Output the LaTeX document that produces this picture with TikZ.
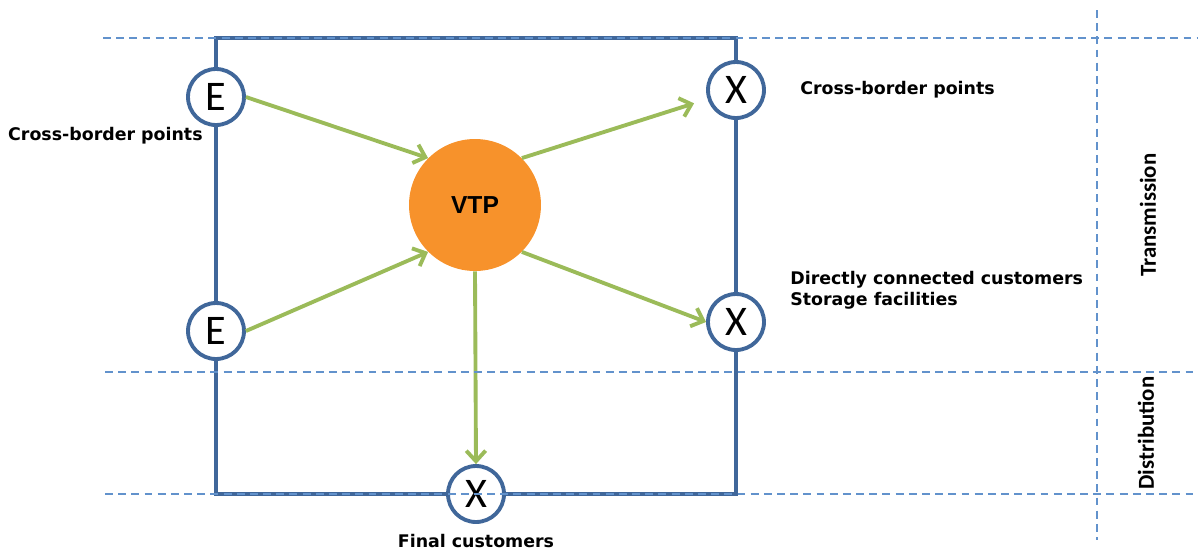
\documentclass[tikz,border=0pt]{standalone}
\usepackage{fontspec}
\usetikzlibrary{positioning, arrows.meta}
\newfontfamily\labelfont{DejaVu Sans}
\newfontfamily\letterfont{Carlito}
\newfontfamily\vtpfont{Liberation Sans}
\definecolor{boxblue}{RGB}{64,103,154}
\definecolor{lineblue}{RGB}{98,146,204}
\definecolor{flowgreen}{RGB}{155,187,89}
\definecolor{vtporange}{RGB}{247,146,43}

\begin{document}
\begin{tikzpicture}[x=0.02cm, y=-0.02cm,
    point/.style={circle, draw=boxblue, line width=2.2pt, fill=white,
        minimum size=1.12cm, inner sep=0pt, font=\letterfont\fontsize{24}{24}\selectfont},
    hub/.style={circle, fill=vtporange, minimum size=2.64cm, inner sep=0pt,
        font=\vtpfont\bfseries\fontsize{14}{14}\selectfont},
    lbl/.style={font=\labelfont\bfseries\fontsize{9.9}{12}\selectfont, inner sep=0pt, align=left},
    zone/.style={font=\letterfont\bfseries\fontsize{13}{13}\selectfont, rotate=90, inner sep=0pt},
    flow/.style={draw=flowgreen, line width=2.2pt, -{Straight Barb[length=6pt, width=11pt, line width=2.2pt]}},
    level/.style={draw=lineblue, line width=1.3pt, dash pattern=on 4.5pt off 3pt}]
    \useasboundingbox (0,0) rectangle (1198,549);

    % box
    \draw[boxblue, line width=2.2pt] (216,38) rectangle (736,494);

    % points
    \node[hub] (vtp) at (475,205) {VTP};
    \node[point] (e1) at (216,97) {E};
    \node[point] (e2) at (216,331) {E};
    \node[point] (x1) at (736,90) {X};
    \node[point] (x2) at (736,322) {X};
    \node[point] (x3) at (476,494) {X};

    % labels
    \node[lbl, anchor=north east] (cbin) at (203,127) {Cross-border points};
    \node[lbl, right=0.68cm of x1] (cbout) {Cross-border points};
    \node[lbl, anchor=west] (direct) at (790,290) {Directly connected customers\\Storage facilities};
    \node[lbl, below=0.2cm of x3] (final) {Final customers};
    \node[zone] (trans) at (1148,215) {Transmission};
    \node[zone] (dist) at (1146,433) {Distribution};

    % flows
    \draw[flow] (e1.east) -- (vtp.135);
    \draw[flow] (e2.east) -- (vtp.225);
    \draw[flow, shorten >=8pt] (vtp.45) -- (x1);
    \draw[flow] (vtp.-45) -- (x2.west);
    \draw[flow] (vtp.south) -- (x3.north);

    % levels
    \coordinate (t0) at (103,38);  \coordinate (t1) at (1198,38);
    \coordinate (m0) at (105,372); \coordinate (m1) at (1198,372);
    \coordinate (b0) at (105,494); \coordinate (b1) at (1198,494);
    \coordinate (v0) at (1097,10); \coordinate (v1) at (1097,540);
    \draw[level] (t0) -- (t1);
    \draw[level] (m0) -- (m1);
    \draw[level] (b0) -- (b1);
    \draw[level] (v0) -- (v1);
\end{tikzpicture}
\end{document}
